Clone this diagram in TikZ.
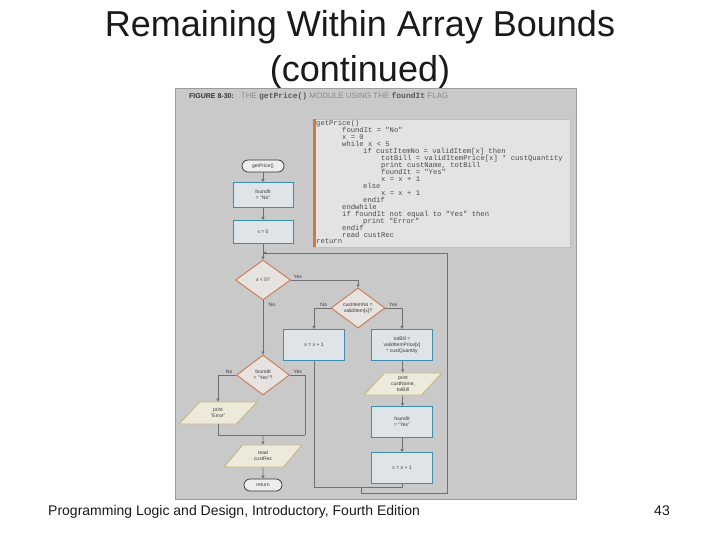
\documentclass[tikz,border=0pt]{standalone}
\usepackage{fontspec}
\setmainfont{Liberation Sans}
\setmonofont{Liberation Mono}
\usetikzlibrary{shapes.geometric,arrows.meta}
\definecolor{figbg}{HTML}{C9C9C9}
\definecolor{figedge}{HTML}{9C9C9C}
\definecolor{codebg}{HTML}{E3E3E3}
\definecolor{codebar}{HTML}{D0783E}
\definecolor{boxfill}{HTML}{DFE4E8}
\definecolor{boxedge}{HTML}{3E8FAE}
\definecolor{dfill}{HTML}{E6E3E0}
\definecolor{dedge}{HTML}{C8784E}
\definecolor{pfill}{HTML}{EDEADB}
\definecolor{pedge}{HTML}{C7B783}
\definecolor{lineg}{HTML}{707070}
\definecolor{txt}{HTML}{3A3A3A}
\definecolor{codetxt}{HTML}{4A4A4A}
\definecolor{titleg}{HTML}{8A8A8A}
\definecolor{slidetxt}{HTML}{1A1A1A}
\begin{document}
\begin{tikzpicture}[x=1pt,y=-1pt,
 procbox/.style={draw=boxedge,fill=boxfill,line width=0.9pt,minimum width=61pt,minimum height=31pt,inner sep=1pt,align=center,font=\fontsize{5}{6}\selectfont,text=txt},
 decbox/.style={diamond,draw=dedge,fill=dfill,line width=0.9pt,minimum width=54pt,minimum height=40pt,inner sep=0pt,align=center,font=\fontsize{5}{6}\selectfont,text=txt},
 iobox/.style={trapezium,trapezium left angle=50,trapezium right angle=130,trapezium stretches=true,draw=pedge,fill=pfill,line width=0.9pt,minimum width=78pt,minimum height=22pt,inner sep=0pt,align=center,font=\fontsize{5}{6}\selectfont,text=txt},
 termbox/.style={draw=black!80,fill=black!7,line width=0.7pt,rounded corners=6pt,minimum width=40pt,minimum height=12pt,inner sep=0pt,font=\fontsize{5}{6}\selectfont,text=txt},
 flow/.style={draw=lineg,line width=0.8pt},
 arr/.style={flow,-{Triangle[length=3pt,width=3pt]}},
 yn/.style={font=\fontsize{5}{6}\selectfont,text=txt,inner sep=0.5pt},
 codeline/.style={anchor=base west,inner sep=0pt,font=\ttfamily\fontsize{7.2}{7.2}\selectfont,text=codetxt},
]
\useasboundingbox (0,0) rectangle (720,540);
\fill[white] (0,0) rectangle (720,540);

% slide title and footer
\node[anchor=base,inner sep=0pt,font=\fontsize{36}{45}\selectfont,text=slidetxt] (title1) at (360,37) {Remaining Within Array Bounds};
\node[anchor=base,inner sep=0pt,font=\fontsize{36}{45}\selectfont,text=slidetxt] (title2) at (360,82) {(continued)};
\node[anchor=base west,inner sep=0pt,font=\fontsize{14}{16}\selectfont,text=slidetxt] (foot) at (48,515) {Programming Logic and Design, Introductory, Fourth Edition};
\node[anchor=base east,inner sep=0pt,font=\fontsize{14}{16}\selectfont,text=slidetxt] (pg) at (670,515) {43};

% figure frame
\filldraw[fill=figbg,draw=figedge,line width=1pt] (175,89) rectangle (576,499);
\node[anchor=base west,inner sep=0pt] (ftitle) at (189,99) {{\bfseries\fontsize{7}{8}\selectfont\color{black!80}FIGURE 8-30:}\hspace{7pt}{\fontsize{8}{9}\selectfont\color{titleg}THE {\color{black!65}\ttfamily\bfseries getPrice()} MODULE USING THE {\color{black!65}\ttfamily\bfseries foundIt} FLAG}};

% code box
\filldraw[fill=codebg,draw=black!25,line width=0.5pt] (313,119) rectangle (570,247);
\fill[codebar] (313,119) rectangle (315.5,247);
\node[codeline] (c0) at (316,126) {getPrice()};
\node[codeline] (c1) at (342,132.94) {foundIt = "No"};
\node[codeline] (c2) at (342,139.88) {x = 0};
\node[codeline] (c3) at (342,146.82) {while x < 5};
\node[codeline] (c4) at (363,153.76) {if custItemNo = validItem[x] then};
\node[codeline] (c5) at (381,160.70) {totBill = validItemPrice[x] * custQuantity};
\node[codeline] (c6) at (381,167.64) {print custName, totBill};
\node[codeline] (c7) at (381,174.58) {foundIt = "Yes"};
\node[codeline] (c8) at (381,181.52) {x = x + 1};
\node[codeline] (c9) at (363,188.46) {else};
\node[codeline] (c10) at (381,195.40) {x = x + 1};
\node[codeline] (c11) at (363,202.34) {endif};
\node[codeline] (c12) at (342,209.28) {endwhile};
\node[codeline] (c13) at (342,216.22) {if foundIt not equal to "Yes" then};
\node[codeline] (c14) at (363,223.16) {print "Error"};
\node[codeline] (c15) at (342,230.10) {endif};
\node[codeline] (c16) at (342,237.04) {read custRec};
\node[codeline] (c17) at (316,243.98) {return};

% flowchart nodes
\node[termbox,minimum width=42pt] (t1) at (263,166) {getPrice()};
\node[procbox,minimum width=60pt,minimum height=25pt] (b1) at (263,195) {foundIt\\= "No"};
\node[procbox,minimum width=60pt,minimum height=23pt] (b2) at (263,232) {x = 0};
\node[decbox,minimum width=55pt] (d1) at (263,280) {x < 5?};
\node[decbox,minimum width=54pt,minimum height=37pt] (d2) at (358,308) {custItemNo =\\validItem[x]?};
\node[procbox] (bx) at (314,345) {x = x + 1};
\node[procbox] (bt) at (402,345) {totBill =\\validItemPrice[x]\\* custQuantity};
\node[iobox] (p1) at (403,384) {print\\custName,\\totBill};
\node[procbox] (bf) at (402,422) {foundIt\\= "Yes"};
\node[procbox] (bx2) at (402,468) {x = x + 1};
\node[decbox,minimum width=53pt] (d3) at (263,375) {foundIt\\= "Yes"?};
\node[iobox] (pe) at (218,413) {print\\"Error"};
\node[iobox] (pr) at (263,456) {read\\custRec};
\node[termbox,minimum width=38pt] (ret) at (263,485) {return};

% helper coordinates
\coordinate (lj) at (263,253);
\coordinate (m1) at (314,487);
\coordinate (m2) at (402,487);
\coordinate (m3) at (361,487);
\coordinate (m4) at (361,493);
\coordinate (m5) at (447,493);
\coordinate (m6) at (447,253);
\coordinate (jy) at (305,435);
\coordinate (jm) at (263,435);

% connectors
\draw[arr] (t1) -- (b1);
\draw[arr] (b1) -- (b2);
\draw[arr] (b2) -- (d1);
\draw[arr] (d1.east) -| (d2.north);
\node[yn,anchor=south west] (y1) at ([xshift=2pt,yshift=1pt]d1.east) {Yes};
\draw[arr] (d1.south) -- (d3.north);
\node[yn,anchor=north west] (n1) at ([xshift=5pt,yshift=-2pt]d1.south) {No};
\draw[arr] (d2.west) -| (bx.north);
\node[yn,anchor=south east] (n2) at ([xshift=-3pt,yshift=1pt]d2.west) {No};
\draw[arr] (d2.east) -| (bt.north);
\node[yn,anchor=south west] (y2) at ([xshift=3pt,yshift=1pt]d2.east) {Yes};
\draw[arr] (bt) -- (p1);
\draw[arr] (p1) -- (bf);
\draw[arr] (bf) -- (bx2);
\draw[flow] (bx.south) -- (m1) -- (m2) -- (bx2.south);
\draw[arr] (m3) -- (m4) -- (m5) -- (m6) -- (lj);
\draw[arr] (d3.west) -| (pe.north);
\node[yn,anchor=south east] (n3) at ([xshift=-3pt,yshift=1pt]d3.west) {No};
\draw[flow] (d3.east) -| (jy);
\node[yn,anchor=south west] (y3) at ([xshift=3pt,yshift=1pt]d3.east) {Yes};
\draw[flow] (pe.south) |- (jy);
\draw[arr] (jm) -- (pr.north);
\draw[arr] (pr) -- (ret);
\end{tikzpicture}
\end{document}
